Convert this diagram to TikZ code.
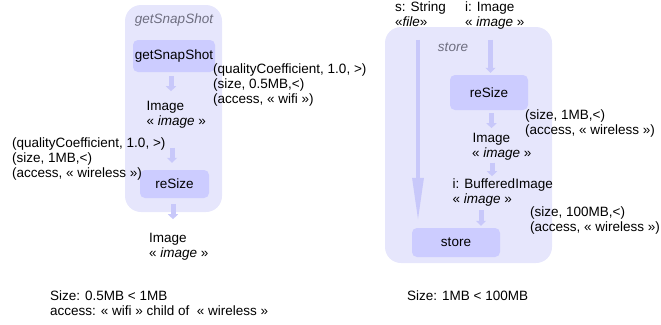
\documentclass[tikz,border=0pt]{standalone}
\usepackage{fontspec}
\setmainfont{Liberation Sans}
\usetikzlibrary{arrows.meta}
\definecolor{contfill}{RGB}{230,230,252}
\definecolor{boxfill}{RGB}{204,204,255}
\definecolor{arrowfill}{RGB}{200,200,250}
\definecolor{titlegray}{RGB}{110,110,128}
\begin{document}
\begin{tikzpicture}[x=1pt,y=-1pt,
  container/.style={fill=contfill, rounded corners=16pt, inner sep=0pt},
  opbox/.style={fill=boxfill, rounded corners=5pt, inner sep=0pt, font=\fontsize{13.5}{15}\selectfont},
  txt/.style={anchor=base west, inner sep=0pt, font=\fontsize{13.5}{15}\selectfont},
  optitle/.style={anchor=base, inner sep=0pt, font=\fontsize{13.5}{15}\selectfont\itshape, text=titlegray},
  blockarrow/.style={draw=arrowfill, line width=5pt, -{Triangle[width=10pt,length=5pt]}},
  longarrow/.style={draw=arrowfill, line width=4.5pt, -{Triangle[width=10.5pt,length=45pt]}}]
\useasboundingbox (0,0) rectangle (661,324);

% ---- left: getSnapShot ----
\node[container, minimum width=97pt, minimum height=207pt] (contL) at (173.5,108.5) {};
\node[optitle] (titleL) at (174,23.5) {getSnapShot};
\node[opbox, minimum width=82pt, minimum height=32pt] (gss) at (174,56) {getSnapShot};
\node[opbox, minimum width=69pt, minimum height=28pt] (resizeL) at (174.5,184) {reSize};

\draw[blockarrow] ([shift={(-3,4)}]gss.south) -- ([shift={(-3,19)}]gss.south);
\draw[blockarrow] ([shift={(-2.5,-22)}]resizeL.north) -- ([shift={(-2.5,-7)}]resizeL.north);
\draw[blockarrow] ([shift={(-1.5,6)}]resizeL.south) -- ([shift={(-1.5,21)}]resizeL.south);

\node[txt] (qcA) at (213,73) {(qualityCoefficient, 1.0, >)};
\node[txt] (szA) at (213,88) {(size, 0.5MB,<)};
\node[txt] (acA) at (213,103) {(access, « wifi »)};
\node[txt] (imgA1) at (146.5,110) {Image};
\node[txt] (imgA2) at (146.5,125) {« \textit{image} »};
\node[txt] (qcB) at (12,147) {(qualityCoefficient, 1.0, >)};
\node[txt] (szB) at (12,162) {(size, 1MB,<)};
\node[txt] (acB) at (12,177) {(access, « wireless »)};
\node[txt] (imgB1) at (149,242.5) {Image};
\node[txt] (imgB2) at (149,257.5) {« \textit{image} »};
\node[txt] (sumL1) at (50,300) {Size: 0.5MB < 1MB};
\node[txt] (sumL2) at (50,315) {access: « wifi » child of~ « wireless »};

% ---- right: store ----
\node[container, minimum width=167pt, minimum height=236pt] (contR) at (468.5,145) {};
\node[optitle] (titleR) at (453,51.5) {store};
\node[opbox, minimum width=78pt, minimum height=35pt] (resizeR) at (489,92.5) {reSize};
\node[opbox, minimum width=88pt, minimum height=29pt] (storeB) at (456,242.5) {store};

\draw[longarrow] ([shift={(-38,-188)}]storeB.north) -- ([shift={(-38,-5)}]storeB.north);
\draw[blockarrow] ([shift={(1.5,-35)}]resizeR.north) -- ([shift={(1.5,-2)}]resizeR.north);
\draw[blockarrow] ([shift={(2.5,3)}]resizeR.south) -- ([shift={(2.5,18)}]resizeR.south);
\draw[blockarrow] ([shift={(3,52.5)}]resizeR.south) -- ([shift={(3,66)}]resizeR.south);
\draw[blockarrow] ([shift={(25,-17.5)}]storeB.north) -- ([shift={(25,-2)}]storeB.north);

\node[txt] (sIn1) at (395,12) {s: String};
\node[txt] (sIn2) at (395,27) {«\textit{file}»};
\node[txt] (iIn1) at (465,11) {i: Image};
\node[txt] (iIn2) at (465,26.5) {« \textit{image} »};
\node[txt] (szC) at (525,119) {(size, 1MB,<)};
\node[txt] (acC) at (525,134) {(access, « wireless »)};
\node[txt] (imgC1) at (472.5,142) {Image};
\node[txt] (imgC2) at (472,157) {« \textit{image} »};
\node[txt] (bufC1) at (452.5,188) {i: BufferedImage};
\node[txt] (bufC2) at (452.5,203) {« \textit{image} »};
\node[txt] (szD) at (530,216) {(size, 100MB,<)};
\node[txt] (acD) at (530,231) {(access, « wireless »)};
\node[txt] (sumR) at (407,300) {Size: 1MB < 100MB};
\end{tikzpicture}
\end{document}
